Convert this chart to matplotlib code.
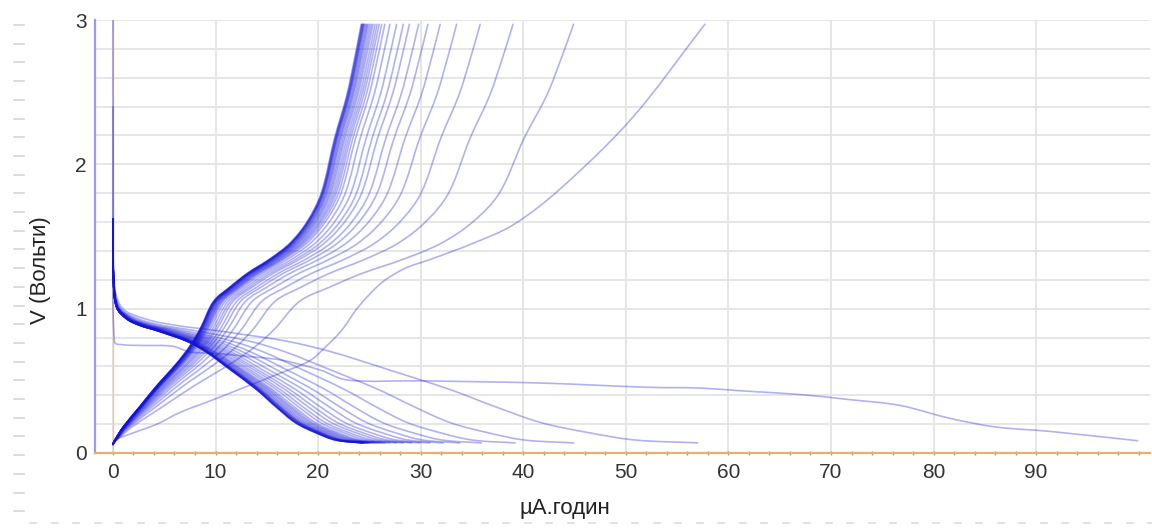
import numpy as np
import matplotlib
matplotlib.use("Agg")
import matplotlib.pyplot as plt
from matplotlib.lines import Line2D
from matplotlib.path import Path
from matplotlib.patches import PathPatch
from matplotlib.ticker import MultipleLocator

plt.rcParams['font.family'] = ['Liberation Sans', 'DejaVu Sans']

# ---- data: capacity (µA·год) and voltage (V) ----
# first cycle
first_discharge_q = [0.0, 0.04, 0.15, 1.0, 3.0, 5.8, 7.5, 10.0, 13.0, 16.3, 20.2, 22.8,
                     30.0, 41.6, 52.3, 57.2, 61.4, 67.0, 71.8, 76.7, 81.6, 86.1, 91.3, 99.9]
first_discharge_v = [3.0, 1.6, 0.77, 0.75, 0.745, 0.74, 0.70, 0.69, 0.67, 0.645, 0.575, 0.506,
                     0.50, 0.485, 0.455, 0.45, 0.43, 0.405, 0.37, 0.33, 0.24, 0.18, 0.15, 0.085]
first_charge_q = [0.0, 0.2, 2.0, 4.3, 6.5, 9.8, 13.0, 16.2, 19.2, 20.8, 22.3, 23.9,
                  26.2, 28.5, 30.9, 35.0, 39.0, 43.6, 50.6, 57.7]
first_charge_v = [0.06, 0.09, 0.14, 0.20, 0.28, 0.37, 0.46, 0.55, 0.64, 0.74, 0.85, 1.01,
                  1.18, 1.28, 1.34, 1.45, 1.58, 1.83, 2.32, 2.97]

# last (stabilised) cycle
discharge_ref_q = [0.0, 0.05, 0.36, 1.33, 2.6, 4.2, 7.2, 9.1, 11.4, 14.0, 15.9, 17.8, 19.8, 21.7, 24.3]
discharge_ref_v = [1.62, 1.20, 1.01, 0.93, 0.885, 0.85, 0.775, 0.70, 0.58, 0.44, 0.32, 0.21, 0.14, 0.09, 0.07]
charge_ref_q = [0.0, 0.2, 1.0, 2.6, 4.2, 6.2, 7.5, 8.5, 9.8, 11.4, 13.1, 15.2, 17.2, 18.9, 20.3,
                21.6, 22.8, 23.6, 24.2]
charge_ref_v = [0.06, 0.09, 0.18, 0.32, 0.46, 0.62, 0.74, 0.86, 1.05, 1.15, 1.245, 1.34, 1.45, 1.60,
                1.80, 2.18, 2.48, 2.75, 2.97]

# end capacity of every cycle from the second one on
discharge_end_q = [57.0, 44.9, 39.2, 35.9, 33.8, 32.2, 30.9, 29.9, 29.1, 28.3, 27.65, 27.0, 26.6,
                   26.3, 26.0, 25.7, 25.45, 25.2, 25.0, 24.9, 24.8, 24.7, 24.6, 24.5, 24.45,
                   24.4, 24.35, 24.3, 24.3, 24.3]
charge_end_q = [44.9, 39.0, 35.8, 33.5, 31.9, 30.7, 29.8, 28.9, 28.3, 27.65, 27.0, 26.5, 26.2,
                25.95, 25.75, 25.55, 25.35, 25.2, 25.05, 24.9, 24.8, 24.7, 24.6, 24.5, 24.45,
                24.4, 24.35, 24.3, 24.25, 24.2]
second_discharge_start_v = 2.40

x_ticks = [0, 10, 20, 30, 40, 50, 60, 70, 80, 90]
y_ticks = [0, 1, 2, 3]

# ---- figure ----
W, H = 1152, 528
AX_L, AX_R, AX_B, AX_T = 95, 1150, 453, 20
XMIN, XMAX, YMIN, YMAX = -1.75, 101.1, 0.0, 3.0
SX = (AX_R - AX_L) / (XMAX - XMIN)   # pixels per unit
SY = (AX_B - AX_T) / (YMAX - YMIN)

fig = plt.figure(figsize=(W / 100, H / 100), dpi=100)
ax = fig.add_axes([AX_L / W, (H - AX_B) / H, (AX_R - AX_L) / W, (AX_B - AX_T) / H])
ax.set_xlim(XMIN, XMAX)
ax.set_ylim(YMIN, YMAX)


def smooth_path(x, y):
    """Cubic Bezier path through the given points (tangents from neighbours,
    handle length a third of each segment measured on screen)."""
    p = np.column_stack([np.asarray(x, float) * SX, np.asarray(y, float) * SY])
    n = len(p)
    tang = np.zeros_like(p)
    for i in range(n):
        a = p[max(i - 1, 0)]
        b = p[min(i + 1, n - 1)]
        d = b - a
        nrm = np.hypot(*d)
        tang[i] = d / nrm if nrm > 0 else 0
    verts = [p[0]]
    codes = [Path.MOVETO]
    for i in range(n - 1):
        L = np.hypot(*(p[i + 1] - p[i])) / 3.0
        verts += [p[i] + tang[i] * L, p[i + 1] - tang[i + 1] * L, p[i + 1]]
        codes += [Path.CURVE4] * 3
    verts = np.array(verts)
    verts[:, 0] /= SX
    verts[:, 1] /= SY
    return Path(verts, codes)


grid_c = '#e4e4e4'
ax.xaxis.set_major_locator(MultipleLocator(10))
ax.xaxis.set_minor_locator(MultipleLocator(2))
ax.yaxis.set_minor_locator(MultipleLocator(0.2))
ax.set_xticks(x_ticks)
ax.set_yticks(y_ticks)
ax.grid(True, axis='x', which='major', color=grid_c, lw=1.3)
ax.grid(True, axis='y', which='both', color=grid_c, lw=1.3)
ax.set_axisbelow(True)

for s in ('top', 'right'):
    ax.spines[s].set_visible(False)
ax.spines['bottom'].set_color('#e3ae78')
ax.spines['bottom'].set_linewidth(1.6)
ax.spines['left'].set_color('#9a9af2')
ax.spines['left'].set_linestyle((0, (1, 1)))
ax.spines['left'].set_linewidth(1.6)

ax.tick_params(axis='x', which='both', length=3, width=1, color='#9a9a9a',
               direction='inout', labelsize=15, labelcolor='#333333', pad=6)
ax.tick_params(axis='y', which='both', length=0, labelsize=15, labelcolor='#333333', pad=6)

ax.axvline(0, color='#f2c890', lw=1.0, zorder=1)

line_c = '#1414d8'
alpha = 0.33
lw = 1.2


def draw(q, v):
    ax.add_patch(PathPatch(smooth_path(q, v), fill=False, edgecolor=line_c,
                           alpha=alpha, lw=lw, zorder=3, capstyle='round', joinstyle='round'))


# later cycles: the stabilised curve stretched to each cycle's capacity
for k, end in enumerate(discharge_end_q):
    q = np.asarray(discharge_ref_q) * end / discharge_ref_q[-1]
    v = np.asarray(discharge_ref_v, dtype=float).copy()
    if k == 0:
        v[0] = second_discharge_start_v
    draw(q, v)
for end in charge_end_q:
    q = np.asarray(charge_ref_q) * end / charge_ref_q[-1]
    draw(q, charge_ref_v)

draw(first_discharge_q, first_discharge_v)
draw(first_charge_q, first_charge_v)

ax.set_xlabel('µA.годин', fontsize=16, color='#222222')
ax.xaxis.set_label_coords((565 - AX_L) / (AX_R - AX_L), -0.103)
ax.set_ylabel('V (Вольти)', fontsize=16, color='#222222')
ax.yaxis.set_label_coords(-(AX_L - 51) / (AX_R - AX_L), (AX_B - 270) / (AX_B - AX_T))

# faint ruler marks along the left and bottom edges of the sheet
for py in np.arange(25, 515, 18.7):
    fig.add_artist(Line2D([14 / W, 24 / W], [1 - py / H, 1 - py / H], color='#d6d6d6', lw=1.2))
for px in np.arange(30, 1150, 21.5):
    fig.add_artist(Line2D([px / W, (px + 6) / W], [1 - 523 / H, 1 - 523 / H], color='#dcdcdc', lw=1.2))

fig.savefig('out.png', dpi=100)
